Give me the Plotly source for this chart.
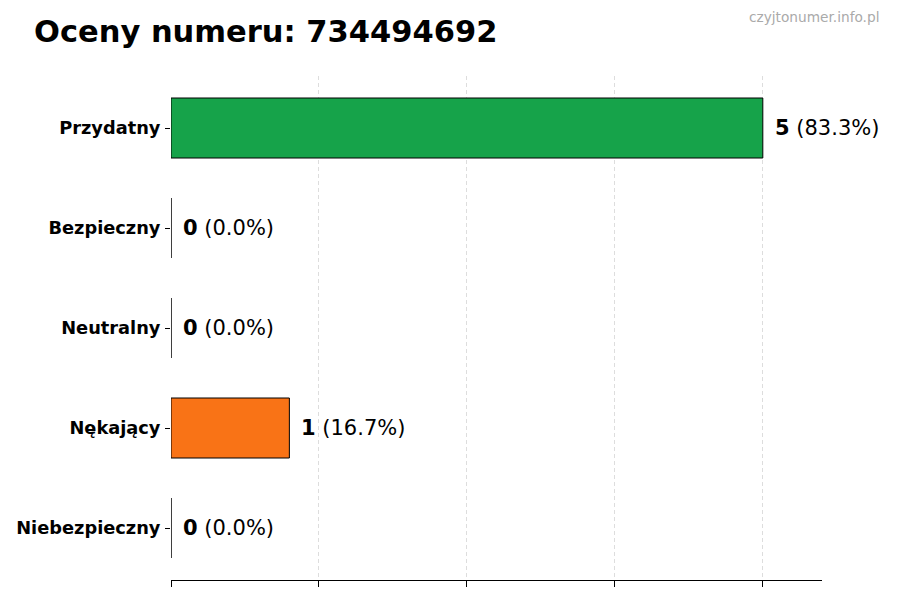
import plotly.graph_objects as go

# data
categories = ['Przydatny', 'Bezpieczny', 'Neutralny', 'Nękający', 'Niebezpieczny']
counts = [5, 0, 0, 1, 0]
bar_colors = ['#16a34a', '#22c55e', '#9ca3af', '#f97316', '#dc2626']
grid_vals = [0, 1.25, 2.5, 3.75, 5]

total = sum(counts)
pcts = [100 * c / total for c in counts]

# the page body adds an 8px offset, so margins are shifted by that
ML, MR, MT, MB = 163, 86, 68, 28
W, H = 900, 600
pw, ph = W - ML - MR, H - MT - MB

fig = go.Figure()
fig.add_trace(go.Bar(
    x=counts, y=categories, orientation='h',
    width=0.6,
    marker=dict(color=bar_colors, line=dict(color='black', width=1)),
    hoverinfo='skip',
))

for cat, c, p in zip(categories, counts, pcts):
    fig.add_annotation(
        x=c, y=cat, xref='x', yref='y',
        text=f'<b>{c}</b> ({p:.1f}%)',
        showarrow=False, xanchor='left', yanchor='middle',
        xshift=10,
        font=dict(family='DejaVu Sans', size=21, color='black'),
    )

# watermark, top right
fig.add_annotation(
    text='czyjtonumer.info.pl', xref='paper', yref='paper',
    x=(873 - ML) / pw, y=(H - MB - 9) / ph, xanchor='right', yanchor='middle',
    showarrow=False,
    font=dict(family='DejaVu Sans', size=13.7, color='#aaaaaa'),
)

fig.update_layout(
    width=W, height=H,
    margin=dict(l=ML, r=MR, t=MT, b=MB, autoexpand=False),
    paper_bgcolor='white', plot_bgcolor='white',
    showlegend=False,
    title=dict(
        text='<b>Oceny numeru: 734494692</b>',
        xref='container', yref='container',
        x=26 / W, xanchor='left', y=1 - 23 / H, yanchor='middle',
        font=dict(family='DejaVu Sans', size=30.5, color='black'),
    ),
    xaxis=dict(
        range=[0, 5.5],
        tickvals=grid_vals, showticklabels=False,
        ticks='outside', ticklen=6, tickcolor='black',
        showgrid=True, gridcolor='#dddddd', griddash='4px,3px', gridwidth=1,
        showline=True, linecolor='black', linewidth=1,
        zeroline=False,
    ),
    yaxis=dict(
        categoryorder='array', categoryarray=categories,
        autorange=False, range=[4.52, -0.52],
        automargin=False,
        ticks='outside', ticklen=5, tickcolor='black',
        showline=False, showgrid=False, zeroline=False,
        tickfont=dict(family='DejaVu Sans', size=17.8, color='black'),
        ticklabelstandoff=1,
        tickvals=categories,
        ticktext=[f'<b>{c}</b>' for c in categories],
    ),
)

fig.write_html('out.html')
